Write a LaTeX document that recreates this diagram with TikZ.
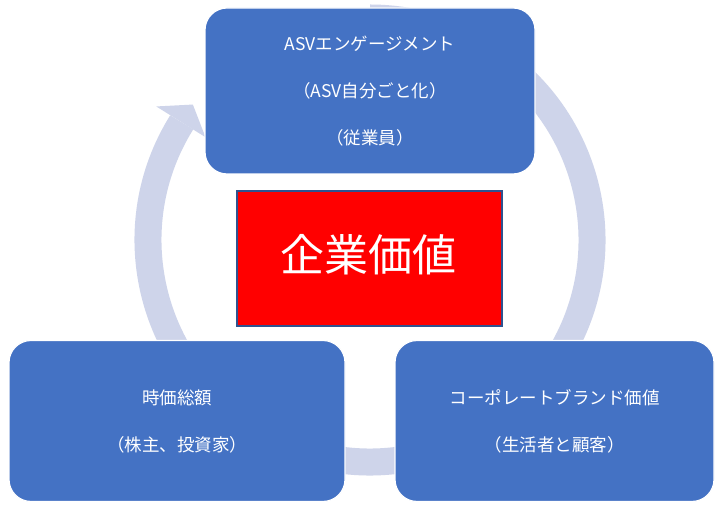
\documentclass[tikz,border=0pt]{standalone}
\usepackage{fontspec}
\setmainfont{Noto Sans CJK JP}
\definecolor{ringcol}{RGB}{206,212,234}
\definecolor{boxblue}{RGB}{68,114,196}
\definecolor{redborder}{RGB}{47,82,143}
\tikzset{
  cyclebox/.style={draw=white, line width=1.2pt, fill=boxblue, rounded corners=22pt,
    text=white, align=center, font=\fontsize{17.5}{47}\selectfont, inner sep=0pt},
  corebox/.style={draw=redborder, line width=1.5pt, fill=red, text=white,
    font=\fontsize{43}{50}\selectfont, inner sep=0pt},
}
\begin{document}
\begin{tikzpicture}[x=1pt,y=1pt]
\useasboundingbox (0,0) rectangle (717,505);
\fill[white] (0,0) rectangle (717,505);
\coordinate (c) at (370,265);
% ring
\draw[ringcol, line width=27pt] ([shift={(148:222pt)}]c) arc[start angle=148, end angle=450, radius=222pt];
\fill[ringcol] ([shift={(148:194pt)}]c) -- ([shift={(148:252pt)}]c) -- ([shift={(142.6:223pt)}]c) -- cycle;
% boxes
\node[cyclebox, minimum width=330pt, minimum height=166pt] (top) at (370,414)
  {ASVエンゲージメント\\（ASV自分ごと化）\\（従業員）};
\node[cyclebox, minimum width=336pt, minimum height=161pt] (left) at (177,84)
  {時価総額\\（株主、投資家）};
\node[cyclebox, minimum width=319pt, minimum height=161pt] (right) at (554.5,84)
  {コーポレートブランド価値\\（生活者と顧客）};
\node[corebox, minimum width=265pt, minimum height=135pt] (core) at (369.5,246.5) {};
\node[text=white, font=\fontsize{44}{50}\selectfont, inner sep=0pt] (coretext) at (368,250) {企業価値};
\end{tikzpicture}
\end{document}
